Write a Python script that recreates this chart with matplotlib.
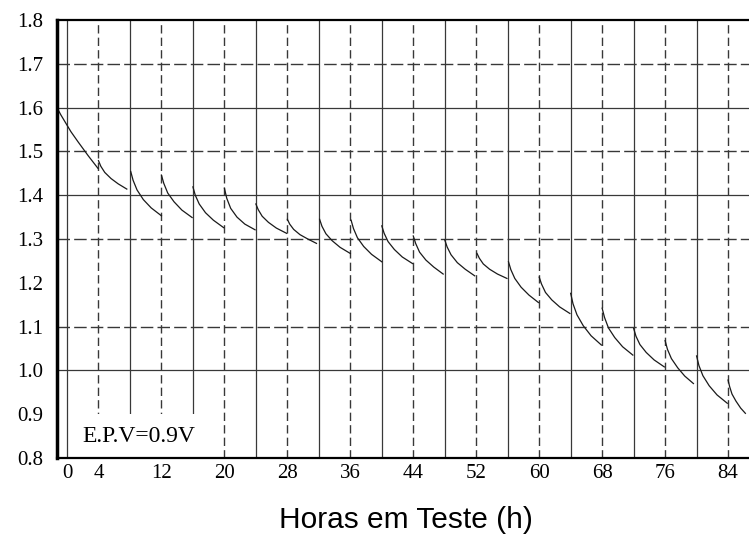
import matplotlib
matplotlib.use('Agg')
import matplotlib.pyplot as plt
from matplotlib.patches import Rectangle

# discharge curve, one piece per 4 h step (hours, volts)
seg_hours = [
    [-1.27, -0.8, -0.2, 0.5, 1.4, 2.7, 3.95],
    [4.0, 4.3, 4.8, 5.6, 6.5, 7.6],
    [8.1, 8.4, 8.9, 9.7, 10.7, 12.0],
    [12.0, 12.3, 12.8, 13.6, 14.6, 15.9],
    [16.0, 16.3, 16.8, 17.6, 18.6, 19.9],
    [20.0, 20.3, 20.8, 21.6, 22.6, 23.9],
    [24.0, 24.3, 24.8, 25.6, 26.6, 27.9],
    [28.0, 28.3, 28.8, 29.6, 30.6, 31.7],
    [32.1, 32.4, 32.9, 33.7, 34.7, 36.0],
    [36.1, 36.4, 36.9, 37.7, 38.7, 40.0],
    [40.0, 40.3, 40.8, 41.6, 42.6, 43.9],
    [44.0, 44.3, 44.8, 45.6, 46.6, 47.8],
    [48.0, 48.3, 48.8, 49.6, 50.6, 51.8],
    [52.1, 52.4, 52.9, 53.7, 54.7, 55.9],
    [56.1, 56.4, 56.9, 57.7, 58.7, 59.9],
    [60.0, 60.3, 60.8, 61.6, 62.6, 63.9],
    [64.0, 64.3, 64.8, 65.6, 66.6, 67.9],
    [68.0, 68.3, 68.8, 69.6, 70.6, 71.9],
    [72.0, 72.3, 72.8, 73.6, 74.6, 75.9],
    [76.0, 76.3, 76.8, 77.6, 78.5, 79.6],
    [80.0, 80.3, 80.8, 81.6, 82.6, 83.9],
    [84.0, 84.2, 84.5, 85.0, 85.6, 86.2],
]
seg_volts = [
    [1.600, 1.584, 1.566, 1.545, 1.522, 1.490, 1.461],
    [1.479, 1.466, 1.452, 1.438, 1.426, 1.414],
    [1.454, 1.434, 1.412, 1.390, 1.371, 1.353],
    [1.446, 1.427, 1.405, 1.385, 1.366, 1.349],
    [1.419, 1.400, 1.380, 1.360, 1.343, 1.326],
    [1.416, 1.393, 1.370, 1.350, 1.334, 1.321],
    [1.380, 1.367, 1.352, 1.338, 1.325, 1.313],
    [1.345, 1.334, 1.322, 1.310, 1.300, 1.290],
    [1.345, 1.329, 1.312, 1.296, 1.281, 1.267],
    [1.343, 1.324, 1.303, 1.283, 1.265, 1.248],
    [1.330, 1.313, 1.294, 1.276, 1.259, 1.244],
    [1.307, 1.290, 1.270, 1.252, 1.236, 1.220],
    [1.298, 1.282, 1.264, 1.246, 1.231, 1.216],
    [1.267, 1.256, 1.243, 1.231, 1.220, 1.210],
    [1.248, 1.230, 1.210, 1.190, 1.172, 1.155],
    [1.213, 1.197, 1.178, 1.161, 1.145, 1.130],
    [1.176, 1.152, 1.127, 1.102, 1.079, 1.058],
    [1.142, 1.121, 1.097, 1.075, 1.054, 1.035],
    [1.096, 1.078, 1.059, 1.041, 1.024, 1.008],
    [1.068, 1.048, 1.027, 1.006, 0.987, 0.970],
    [1.033, 1.011, 0.988, 0.965, 0.944, 0.925],
    [0.978, 0.963, 0.946, 0.930, 0.914, 0.902],
]

x_ticks = [0, 4, 12, 20, 28, 36, 44, 52, 60, 68, 76, 84]
y_ticks = [0.8, 0.9, 1.0, 1.1, 1.2, 1.3, 1.4, 1.5, 1.6, 1.7, 1.8]
v_solid = [0, 8, 16, 24, 32, 40, 48, 56, 64, 72, 80]
v_dashed = [4, 12, 20, 28, 36, 44, 52, 60, 68, 76, 84]
h_solid = [1.0, 1.4, 1.6]
h_dashed = [1.1, 1.3, 1.5, 1.7]
note = 'E.P.V=0.9V'

fig = plt.figure(figsize=(7.49, 5.35), dpi=100)
ax = fig.add_axes([0.0761, 0.1439, 0.9239, 0.8187])

ax.set_xlim(-1.27, 86.66)
ax.set_ylim(0.8, 1.8)

grid_col = '#383838'
for x in v_solid:
    ax.axvline(x, color=grid_col, lw=0.9, zorder=1)
for x in v_dashed:
    ax.axvline(x, color=grid_col, lw=1.0, ls=(0, (6, 3)), zorder=1)
for y in h_solid:
    ax.axhline(y, color=grid_col, lw=0.9, zorder=1)
for y in h_dashed:
    ax.axhline(y, color=grid_col, lw=1.0, ls=(0, (9, 3)), zorder=1)

# white box holding the end-point note
ax.add_patch(Rectangle((0.3, 0.8), 19.2, 0.1, facecolor='white',
                       edgecolor='none', zorder=2))
ax.text(2.0, 0.836, note, family='Liberation Serif', fontsize=17,
        va='baseline', ha='left', zorder=3)

for hrs, vs in zip(seg_hours, seg_volts):
    ax.plot(hrs, vs, color='#1a1a1a', lw=0.9, zorder=4)

ax.set_xticks(x_ticks)
ax.set_xticklabels([str(t) for t in x_ticks])
ax.set_yticks(y_ticks)
ax.set_yticklabels(['%.1f' % t for t in y_ticks])
ax.tick_params(axis='both', length=0, labelsize=15)
ax.tick_params(axis='y', pad=10)
ax.tick_params(axis='x', pad=4)
for lab in ax.get_xticklabels() + ax.get_yticklabels():
    lab.set_family('Liberation Serif')

ax.spines['right'].set_visible(False)
ax.spines['left'].set_linewidth(2.5)
ax.spines['top'].set_linewidth(1.6)
ax.spines['bottom'].set_linewidth(1.6)
for s in ax.spines.values():
    s.set_color('black')
    s.set_zorder(5)

fig.text(0.542, 0.014, 'Horas em Teste (h)', family='Liberation Sans',
         fontsize=21.5, ha='center', va='baseline')

fig.savefig('out.png', dpi=100)
